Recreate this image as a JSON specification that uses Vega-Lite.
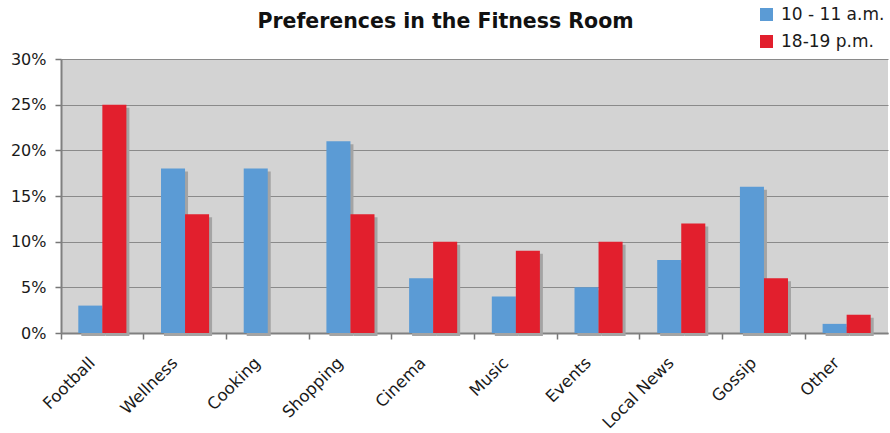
{
  "$schema": "https://vega.github.io/schema/vega-lite/v6.json",
  "width": 827,
  "height": 274,
  "autosize": {"type": "none"},
  "padding": {"left": 61, "top": 59, "right": 2, "bottom": 100},
  "background": "white",
  "config": {
    "font": "DejaVu Sans",
    "view": {"fill": "#d3d3d3", "stroke": null}
  },
  "title": {
    "text": "Preferences in the Fitness Room",
    "fontSize": 20.5,
    "fontWeight": "bold",
    "color": "#111111",
    "anchor": "middle",
    "frame": "group",
    "dx": -29,
    "offset": 0,
    "dy": 26
  },
  "data": {
    "values": [
      {"category": "Football", "period": "10 - 11 a.m.", "value": 0.03},
      {"category": "Football", "period": "18-19 p.m.", "value": 0.25},
      {"category": "Wellness", "period": "10 - 11 a.m.", "value": 0.18},
      {"category": "Wellness", "period": "18-19 p.m.", "value": 0.13},
      {"category": "Cooking", "period": "10 - 11 a.m.", "value": 0.18},
      {"category": "Cooking", "period": "18-19 p.m.", "value": 0.0},
      {"category": "Shopping", "period": "10 - 11 a.m.", "value": 0.21},
      {"category": "Shopping", "period": "18-19 p.m.", "value": 0.13},
      {"category": "Cinema", "period": "10 - 11 a.m.", "value": 0.06},
      {"category": "Cinema", "period": "18-19 p.m.", "value": 0.10},
      {"category": "Music", "period": "10 - 11 a.m.", "value": 0.04},
      {"category": "Music", "period": "18-19 p.m.", "value": 0.09},
      {"category": "Events", "period": "10 - 11 a.m.", "value": 0.05},
      {"category": "Events", "period": "18-19 p.m.", "value": 0.10},
      {"category": "Local News", "period": "10 - 11 a.m.", "value": 0.08},
      {"category": "Local News", "period": "18-19 p.m.", "value": 0.12},
      {"category": "Gossip", "period": "10 - 11 a.m.", "value": 0.16},
      {"category": "Gossip", "period": "18-19 p.m.", "value": 0.06},
      {"category": "Other", "period": "10 - 11 a.m.", "value": 0.01},
      {"category": "Other", "period": "18-19 p.m.", "value": 0.02}
    ]
  },
  "encoding": {
    "x": {
      "field": "category",
      "type": "nominal",
      "sort": null,
      "scale": {"paddingInner": 0, "paddingOuter": 0},
      "axis": {
        "title": null,
        "labelAngle": -45,
        "labelAlign": "right",
        "labelBaseline": "middle",
        "labelFontSize": 16.5,
        "labelColor": "#1a1a1a",
        "labelPadding": 21,
        "labelOffset": -10,
        "bandPosition": 0,
        "ticks": true,
        "tickSize": 6,
        "tickColor": "#777777",
        "tickWidth": 1.5,
        "domainColor": "#808080",
        "domainWidth": 2,
        "grid": false
      }
    },
    "y": {
      "field": "value",
      "type": "quantitative",
      "scale": {"domain": [0, 0.3], "nice": false},
      "axis": {
        "title": null,
        "values": [0, 0.05, 0.1, 0.15, 0.2, 0.25, 0.3],
        "format": ".0%",
        "labelFontSize": 16,
        "labelColor": "#1a1a1a",
        "labelPadding": 9,
        "tickSize": 6,
        "tickColor": "#777777",
        "tickWidth": 1.5,
        "domainColor": "#808080",
        "domainWidth": 2,
        "gridColor": "#8a8a8a",
        "gridWidth": 1.2
      }
    }
  },
  "resolve": {"scale": {"xOffset": "independent"}},
  "layer": [
    {
      "mark": {"type": "bar", "color": "#a4a4a4", "yOffset": 3},
      "encoding": {
        "xOffset": {
          "field": "period",
          "type": "nominal",
          "sort": ["10 - 11 a.m.", "18-19 p.m."],
          "scale": {"paddingInner": 0, "paddingOuter": 0.72, "range": [3, 85.7]}
        }
      }
    },
    {
      "mark": {"type": "bar"},
      "encoding": {
        "xOffset": {
          "field": "period",
          "type": "nominal",
          "sort": ["10 - 11 a.m.", "18-19 p.m."],
          "scale": {"paddingInner": 0, "paddingOuter": 0.72, "range": [0, 82.7]}
        },
        "color": {
          "field": "period",
          "type": "nominal",
          "sort": ["10 - 11 a.m.", "18-19 p.m."],
          "scale": {"domain": ["10 - 11 a.m.", "18-19 p.m."], "range": ["#5b9bd5", "#e21f2d"]},
          "legend": {
            "title": null,
            "orient": "none",
            "legendX": 697,
            "legendY": -53,
            "symbolType": "square",
            "symbolSize": 169,
            "symbolStrokeWidth": 0,
            "labelFontSize": 17,
            "labelColor": "#1a1a1a",
            "rowPadding": 9,
            "labelOffset": 6
          }
        }
      }
    }
  ]
}
